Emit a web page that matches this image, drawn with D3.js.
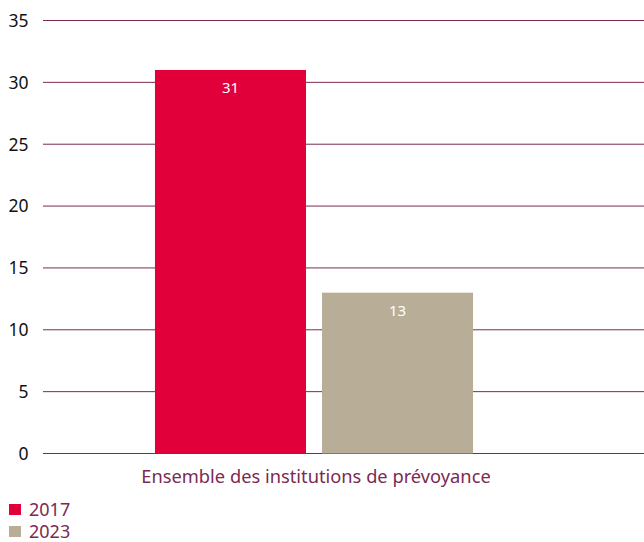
<!DOCTYPE html>
<html>
<head>
<meta charset="utf-8">
<script src="https://cdn.jsdelivr.net/npm/d3@7"></script>
<style>
  body { margin: 0; background: #fff; }
  svg { display: block; font-family: "Noto Sans", "Open Sans", sans-serif; }
</style>
</head>
<body>
<svg id="chart" width="644" height="542"></svg>
<script>
const categories = ["Ensemble des institutions de prévoyance"];
const years = ["2017", "2023"];
const values2017 = [31];
const values2023 = [13];
const yTicks = [0, 5, 10, 15, 20, 25, 30, 35];
const colors = ["#e2003a", "#b8ae97"];

const series = [values2017, values2023];
const svg = d3.select("#chart");
const gridColor = "#7b2a52";

const y = d3.scaleLinear().domain([0, 35]).range([453.5, 20.5]);
const x0 = d3.scaleBand().domain(categories).range([43, 585]).paddingOuter(0.352).paddingInner(0);
const x1 = d3.scaleBand().domain(years).range([0, x0.bandwidth()]).paddingInner(0.0958);

// grid lines
svg.append("g").selectAll("line")
  .data(yTicks)
  .join("line")
  .attr("x1", 43).attr("x2", 644)
  .attr("y1", d => y(d)).attr("y2", d => y(d))
  .attr("stroke", gridColor)
  .attr("stroke-width", 1);

// y labels
svg.append("g").selectAll("text")
  .data(yTicks)
  .join("text")
  .attr("x", 28.5)
  .attr("y", d => y(d))
  .attr("dy", "0.36em")
  .attr("text-anchor", "end")
  .attr("font-size", 17.5)
  .attr("fill", "#111")
  .text(d => d);

// bars
const groups = svg.append("g").selectAll("g")
  .data(categories)
  .join("g")
  .attr("transform", d => `translate(${x0(d)},0)`);

groups.each(function(cat, ci) {
  const g = d3.select(this);
  years.forEach((yr, si) => {
    const v = series[si][ci];
    g.append("rect")
      .attr("x", x1(yr))
      .attr("y", y(v))
      .attr("width", x1.bandwidth())
      .attr("height", y(0) - y(v))
      .attr("fill", colors[si]);
    g.append("text")
      .attr("x", x1(yr) + x1.bandwidth() / 2)
      .attr("y", y(v) + 23)
      .attr("text-anchor", "middle")
      .attr("font-size", 15)
      .attr("fill", "#fff")
      .text(v);
  });
});

// category label
svg.append("g").selectAll("text")
  .data(categories)
  .join("text")
  .attr("x", d => x0(d) + x0.bandwidth() / 2 + 2)
  .attr("y", 483)
  .attr("text-anchor", "middle")
  .attr("font-size", 18.3)
  .attr("fill", gridColor)
  .text(d => d);

// legend
const legend = svg.append("g").selectAll("g")
  .data(years)
  .join("g")
  .attr("transform", (d, i) => `translate(9,${504 + i * 22})`);
legend.append("rect")
  .attr("width", 12).attr("height", 11)
  .attr("fill", (d, i) => colors[i]);
legend.append("text")
  .attr("x", 20).attr("y", 12)
  .attr("font-size", 18)
  .attr("fill", gridColor)
  .text(d => d);
</script>
</body>
</html>
